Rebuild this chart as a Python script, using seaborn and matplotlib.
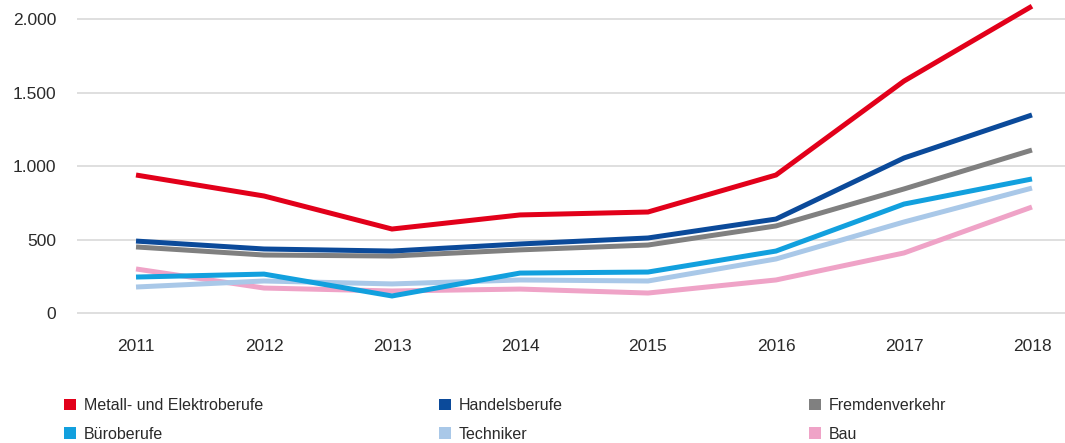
import matplotlib
matplotlib.use("Agg")
import matplotlib.pyplot as plt
from matplotlib.patches import Patch
from matplotlib.ticker import FuncFormatter
import numpy as np
import pandas as pd
import seaborn as sns

years = [2011, 2012, 2013, 2014, 2015, 2016, 2017, 2018]

metall_elektro = [940, 797, 572, 668, 688, 940, 1580, 2090]
handel = [490, 436, 422, 470, 511, 640, 1056, 1349]
fremdenverkehr = [450, 395, 388, 430, 463, 593, 845, 1110]
buero = [245, 265, 116, 272, 279, 422, 742, 913]
techniker = [177, 218, 198, 225, 218, 368, 620, 851]
bau = [300, 170, 150, 163, 136, 225, 409, 722]

series_names = ["Metall- und Elektroberufe", "Handelsberufe", "Fremdenverkehr",
                "Büroberufe", "Techniker", "Bau"]
series_values = [metall_elektro, handel, fremdenverkehr, buero, techniker, bau]
colors = ["#E2001A", "#0B4A9A", "#808080", "#12A0DE", "#A9C8E8", "#EFA3C7"]
palette = dict(zip(series_names, colors))

df = pd.DataFrame(
    [(y, name, v) for name, vals in zip(series_names, series_values) for y, v in zip(years, vals)],
    columns=["Jahr", "Beruf", "Wert"],
)

sns.set_theme(style="white")
plt.rcParams["font.family"] = ["Liberation Sans", "DejaVu Sans"]

W, H = 1065, 443
AX_LEFT = 77
fig = plt.figure(figsize=(W / 100, H / 100), dpi=100)
ax = fig.add_axes([AX_LEFT / W, (H - 320) / H, (W - AX_LEFT) / W, 318 / H])

# draw in reverse so the red line sits on top
sns.lineplot(data=df, x="Jahr", y="Wert", hue="Beruf", hue_order=series_names[::-1],
             palette=palette, linewidth=3.6, legend=False, ax=ax,
             solid_capstyle="butt", solid_joinstyle="miter")

ax.set_xlim(2010.539, 2018.258)
ax.set_ylim(-47.7, 2118.5)
ax.set_yticks([0, 500, 1000, 1500, 2000])
ax.yaxis.set_major_formatter(FuncFormatter(lambda v, p: f"{int(v):,}".replace(",", ".")))
ax.set_xticks(years)
ax.grid(axis="y", color="#dcdcdc", linewidth=1.3)
ax.set_axisbelow(True)
for s in ax.spines.values():
    s.set_visible(False)
ax.set_xlabel("")
ax.set_ylabel("")
ax.tick_params(axis="y", labelsize=12.5, colors="#2a2a2a", pad=15, length=0)
ax.tick_params(axis="x", labelsize=12.5, colors="#2a2a2a", pad=14, length=0)

# legend: three columns of two entries each
col_x = [64, 439, 809]
for c in range(3):
    idx = [c, c + 3]
    handles = [Patch(facecolor=colors[i], edgecolor="none") for i in idx]
    labels = [series_names[i] for i in idx]
    fig.legend(handles, labels, loc="upper left",
               bbox_to_anchor=(col_x[c] / W, 1 - 398 / H),
               frameon=False, fontsize=11.5, handlelength=0.75, handleheight=0.75,
               handletextpad=0.5, labelspacing=0.85, borderaxespad=0, borderpad=0,
               labelcolor="#2a2a2a")

fig.savefig("out.png", dpi=100)
